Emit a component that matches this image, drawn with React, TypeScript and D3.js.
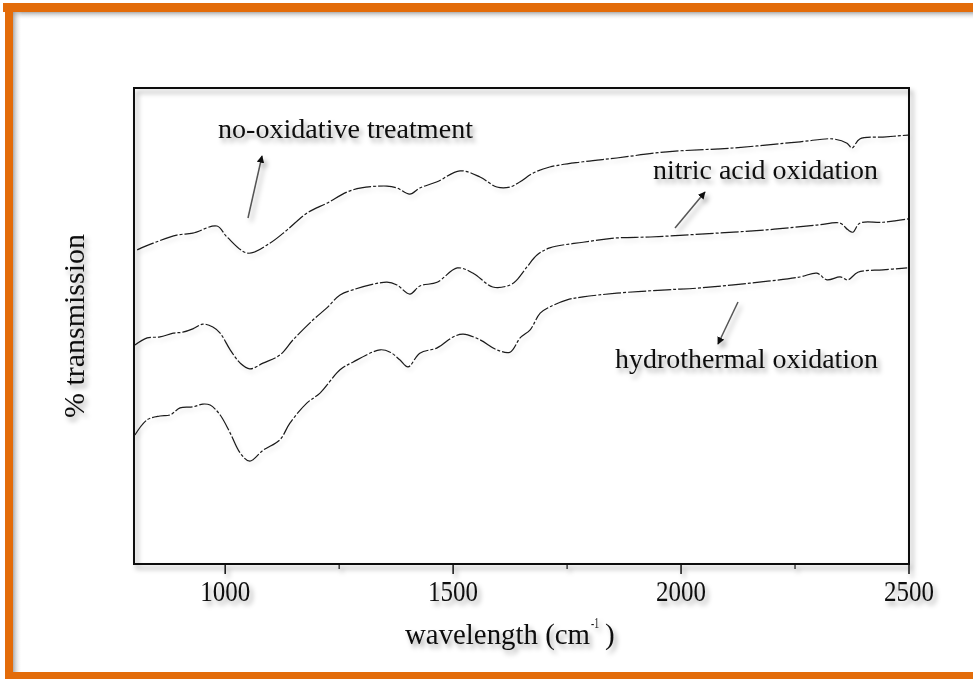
import React from 'react';
import * as d3 from 'd3';

// wavenumber (cm-1) and % transmission (arbitrary offsets)
const noOxWave = [807, 842, 894, 929, 982, 1004, 1050, 1098, 1136, 1179, 1223, 1280, 1355, 1377, 1405, 1427, 1465, 1515, 1559, 1596, 1625, 1647, 1675, 1712, 1785, 1859, 1969, 2114, 2261, 2333, 2364, 2375, 2392, 2443, 2498];
const noOxT = [66.0, 67.4, 69.1, 69.5, 71.0, 68.7, 65.3, 67.4, 70.2, 73.7, 75.8, 78.6, 79.4, 79.0, 77.7, 79.0, 80.3, 82.6, 81.3, 79.2, 79.2, 80.3, 82.1, 83.4, 84.5, 85.3, 86.6, 87.4, 88.7, 89.3, 88.4, 87.4, 89.3, 89.7, 90.1];

const nitricWave = [802, 829, 857, 886, 907, 929, 951, 973, 989, 1011, 1033, 1054, 1083, 1120, 1149, 1193, 1223, 1252, 1280, 1355, 1377, 1405, 1427, 1465, 1509, 1544, 1587, 1625, 1640, 1662, 1684, 1712, 1785, 1859, 1932, 2042, 2188, 2298, 2349, 2366, 2377, 2392, 2443, 2498];
const nitricT = [46.0, 47.5, 47.7, 48.5, 48.7, 49.4, 50.4, 49.8, 48.5, 45.0, 42.2, 41.0, 42.2, 43.9, 47.1, 51.3, 53.8, 56.5, 57.6, 59.2, 58.6, 56.7, 58.4, 59.2, 62.2, 61.1, 58.2, 58.6, 59.7, 62.4, 64.9, 66.4, 67.6, 68.5, 68.7, 69.3, 70.2, 71.2, 71.6, 70.2, 69.7, 71.6, 71.8, 72.5];

const hydroWave = [802, 829, 857, 879, 901, 929, 951, 967, 989, 1011, 1033, 1054, 1083, 1120, 1142, 1179, 1208, 1252, 1280, 1340, 1362, 1383, 1401, 1427, 1465, 1500, 1522, 1559, 1596, 1625, 1647, 1669, 1691, 1712, 1750, 1785, 1859, 1969, 2042, 2151, 2261, 2298, 2320, 2349, 2366, 2388, 2443, 2496];
const hydroT = [27.1, 30.3, 31.1, 31.3, 32.8, 33.0, 33.6, 33.4, 31.3, 27.5, 23.3, 21.6, 23.9, 26.1, 29.6, 33.8, 35.9, 40.8, 42.4, 45.0, 44.5, 42.9, 41.4, 44.3, 45.4, 47.7, 48.3, 47.1, 45.0, 44.5, 47.5, 49.2, 52.7, 54.0, 55.5, 56.1, 56.9, 57.6, 58.0, 59.0, 60.3, 61.1, 59.7, 60.3, 59.7, 61.3, 61.8, 62.2];

const majorTicks = [1000, 1500, 2000, 2500];
const minorTicks = [1250, 1750, 2250];

const ORANGE = '#e36c0a';

export default function App() {
  const x = d3.scaleLinear().domain([800, 2500]).range([134, 909]);
  const y = d3.scaleLinear().domain([0, 100]).range([564, 88]);

  const line = d3.line<[number, number]>()
    .x(d => x(d[0]))
    .y(d => y(d[1]))
    .curve(d3.curveCatmullRom.alpha(0.5));

  const series = [
    d3.zip(noOxWave, noOxT) as [number, number][],
    d3.zip(nitricWave, nitricT) as [number, number][],
    d3.zip(hydroWave, hydroT) as [number, number][],
  ];

  const font = '"Liberation Serif", "Times New Roman", serif';

  return (
    <svg width={973} height={679} style={{ position: 'absolute', left: 0, top: 0, background: '#fff' }}
      fontFamily={font}>
      <defs>
        <filter id="shadow" x="-20%" y="-20%" width="140%" height="160%">
          <feDropShadow dx="3" dy="4" stdDeviation="2.5" floodColor="#000" floodOpacity="0.35" />
        </filter>
        <filter id="lshadow" x="-5%" y="-20%" width="110%" height="140%">
          <feDropShadow dx="2" dy="3" stdDeviation="2" floodColor="#000" floodOpacity="0.12" />
        </filter>
        <linearGradient id="topShade" x1="0" y1="0" x2="0" y2="1">
          <stop offset="0%" stopColor="#999" stopOpacity="0.8" />
          <stop offset="100%" stopColor="#fff" stopOpacity="0" />
        </linearGradient>
        <linearGradient id="leftShade" x1="0" y1="0" x2="1" y2="0">
          <stop offset="0%" stopColor="#999" stopOpacity="0.8" />
          <stop offset="100%" stopColor="#fff" stopOpacity="0" />
        </linearGradient>
        <marker id="head" viewBox="0 0 10 10" refX="9" refY="5" markerWidth="5" markerHeight="5" orient="auto">
          <path d="M0,0 L10,5 L0,10 z" fill="#111" />
        </marker>
      </defs>

      {/* orange frame with inner shading */}
      <rect x={13} y={12} width={960} height={8} fill="url(#topShade)" />
      <rect x={13} y={12} width={9} height={661} fill="url(#leftShade)" />
      <rect x={3} y={3} width={970} height={9} fill={ORANGE} />
      <rect x={5} y={3} width={8} height={676} fill={ORANGE} />
      <rect x={5} y={672} width={968} height={7} fill={ORANGE} />

      {/* plot box */}
      <g filter="url(#shadow)">
        <rect x={134} y={88} width={775} height={476} fill="none" stroke="#111" strokeWidth={2} />
        {majorTicks.map(t => (
          <line key={t} x1={x(t)} x2={x(t)} y1={564} y2={574} stroke="#111" strokeWidth={1.5} />
        ))}
        {minorTicks.map(t => (
          <line key={t} x1={x(t)} x2={x(t)} y1={564} y2={569} stroke="#111" strokeWidth={1.2} />
        ))}
      </g>

      {/* spectra */}
      <g filter="url(#lshadow)">
        {series.map((s, i) => (
          <path key={i} d={line(s) ?? ''} fill="none" stroke="#1a1a1a" strokeWidth={1.2}
            strokeDasharray="18 2 3 2" />
        ))}
      </g>

      {/* annotations */}
      <g filter="url(#shadow)" fill="#111">
        <text x={218} y={138} fontSize={28} textLength={255} lengthAdjust="spacingAndGlyphs">no-oxidative treatment</text>
        <text x={653} y={179} fontSize={28} textLength={225} lengthAdjust="spacingAndGlyphs">nitric acid oxidation</text>
        <text x={615} y={368} fontSize={28} textLength={263} lengthAdjust="spacingAndGlyphs">hydrothermal oxidation</text>
        <line x1={248} y1={218} x2={262} y2={156} stroke="#555" strokeWidth={1.5} markerEnd="url(#head)" />
        <line x1={675} y1={228} x2={705} y2={192} stroke="#555" strokeWidth={1.5} markerEnd="url(#head)" />
        <line x1={738} y1={302} x2={718} y2={344} stroke="#555" strokeWidth={1.5} markerEnd="url(#head)" />

        {majorTicks.map(t => (
          <text key={t} x={x(t)} y={601} fontSize={30} textAnchor="middle" textLength={50}
            lengthAdjust="spacingAndGlyphs">{t}</text>
        ))}

        <text x={405} y={644} fontSize={29} textLength={185} lengthAdjust="spacingAndGlyphs">wavelength (cm</text>
        <text x={591} y={628} fontSize={14} textLength={8} lengthAdjust="spacingAndGlyphs">-1</text>
        <text x={605} y={644} fontSize={29}>)</text>

        <text transform="translate(84,418) rotate(-90)" fontSize={30} textLength={184}
          lengthAdjust="spacingAndGlyphs">% transmission</text>
      </g>
    </svg>
  );
}
